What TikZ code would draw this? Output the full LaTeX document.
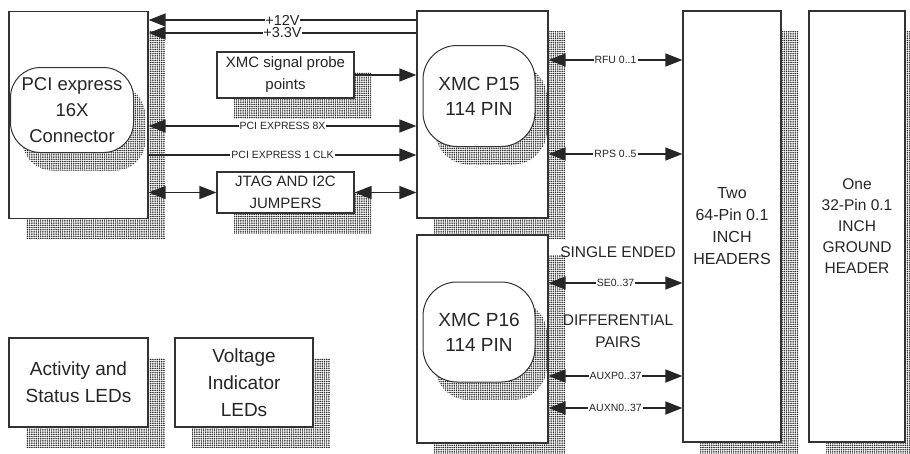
\documentclass[tikz,border=0pt]{standalone}
\usepackage{fontspec}
\setmainfont{Liberation Sans}
\usetikzlibrary{arrows.meta,patterns,shadows,calc}
\pgfdeclarepatternformonly{fdots}{\pgfqpoint{-1pt}{-1pt}}{\pgfqpoint{3pt}{3pt}}{\pgfqpoint{2.2pt}{2.2pt}}{%
  \pgfpathcircle{\pgfqpoint{1.1pt}{1.1pt}}{0.85pt}\pgfusepath{fill}}
\begin{document}
\begin{tikzpicture}[x=1pt,y=-1pt,
 shad/.style={general shadow={shadow xshift=17pt, shadow yshift=-20pt, pattern=fdots, pattern color=black!85}},
 rshad/.style={general shadow={shadow xshift=12pt, shadow yshift=-18pt, pattern=fdots, pattern color=black!85}},
 box/.style={draw=black!80, line width=1.2pt, fill=white, inner sep=0pt, align=center, text=black!85},
 rnd/.style={box, rounded corners=30pt, line width=1pt},
 arr/.style={line width=1.3pt, draw=black!85, -{Triangle[length=17pt,width=13pt]}},
 darr/.style={line width=1.3pt, draw=black!85, {Triangle[length=17pt,width=13pt]}-{Triangle[length=17pt,width=13pt]}},
 lab/.style={fill=white, inner sep=1pt, font=\fontsize{10.5}{12}\selectfont, text=black!85},
 mid/.style={font=\fontsize{15.5}{22}\selectfont}
]
\useasboundingbox (0,0) rectangle (910,453);
% outer boxes
\node[box, shad, minimum width=139pt, minimum height=207pt] (pci) at (78.5,115) {};
\node[box, shad, minimum width=131pt, minimum height=207pt] (p15) at (482.5,114.5) {};
\node[box, shad, minimum width=131pt, minimum height=208pt] (p16) at (482.5,339) {};
\node[box, shad, minimum width=98pt, minimum height=431pt, font=\fontsize{16}{22}\selectfont] (h1) at (732,226.5) {Two\\64-Pin 0.1\\INCH\\HEADERS};
\node[box, shad, minimum width=96pt, minimum height=431pt, font=\fontsize{15.5}{21}\selectfont] (h2) at (857,226.5) {One\\32-Pin 0.1\\INCH\\GROUND\\HEADER};
\node[box, shad, minimum width=137pt, minimum height=46pt, font=\fontsize{15}{22}\selectfont] (probe) at (285.5,75) {XMC signal probe\\points};
\node[box, shad, minimum width=137pt, minimum height=41pt, font=\fontsize{15}{22}\selectfont] (jtag) at (285.5,192.5) {JTAG AND I2C\\JUMPERS};
\node[box, shad, minimum width=139pt, minimum height=89pt, font=\fontsize{19}{27}\selectfont] (act) at (78.5,382.5) {Activity and\\Status LEDs};
\node[box, shad, minimum width=138pt, minimum height=89pt, font=\fontsize{19}{27}\selectfont] (volt) at (244,382.5) {Voltage\\Indicator\\LEDs};
% rounded inner shapes
\node[rnd, rshad, minimum width=123pt, minimum height=85pt, font=\fontsize{18.5}{26}\selectfont] (pcir) at (72,110) {PCI express\\16X\\Connector};
\node[rnd, rshad, rounded corners=34pt, minimum width=112pt, minimum height=101pt, font=\fontsize{19}{25}\selectfont] (p15r) at (479,96) {XMC P15\\114 PIN};
\node[rnd, rshad, rounded corners=34pt, minimum width=112pt, minimum height=100pt, font=\fontsize{19}{25}\selectfont] (p16r) at (479,332) {XMC P16\\114 PIN};
% texts
\node[text=black!85, mid] (se) at (618,252) {SINGLE ENDED};
\node[text=black!85, mid, align=center] (dp) at (618,331) {DIFFERENTIAL\\PAIRS};
% connectors left
\draw[arr] (p15.west |- 0,20) -- node[lab, font=\fontsize{14.5}{15}\selectfont, inner sep=0.5pt] {+12V} (pci.east |- 0,20);
\draw[arr] (p15.west |- 0,33) -- node[lab, font=\fontsize{14.5}{15}\selectfont, inner sep=0.5pt] {+3.3V} (pci.east |- 0,33);
\draw[arr] (probe.east) -- (p15.west |- probe.east);
\draw[darr] (pci.east |- 0,126) -- node[lab] {PCI EXPRESS 8X} (p15.west |- 0,126);
\draw[arr] (pci.east |- 0,155) -- node[lab] {PCI EXPRESS 1 CLK} (p15.west |- 0,155);
\draw[darr] (pci.east |- jtag.west) -- (jtag.west);
\draw[darr] (jtag.east) -- (p15.west |- jtag.east);
% connectors right
\draw[darr] (p15.east |- 0,60) -- node[lab] {RFU 0..1} (h1.west |- 0,60);
\draw[darr] (p15.east |- 0,154) -- node[lab] {RPS 0..5} (h1.west |- 0,154);
\draw[darr] (p16.east |- 0,283) -- node[lab] {SE0..37} (h1.west |- 0,283);
\draw[darr] (p16.east |- 0,376) -- node[lab] {AUXP0..37} (h1.west |- 0,376);
\draw[darr] (p16.east |- 0,408) -- node[lab] {AUXN0..37} (h1.west |- 0,408);
\end{tikzpicture}
\end{document}
